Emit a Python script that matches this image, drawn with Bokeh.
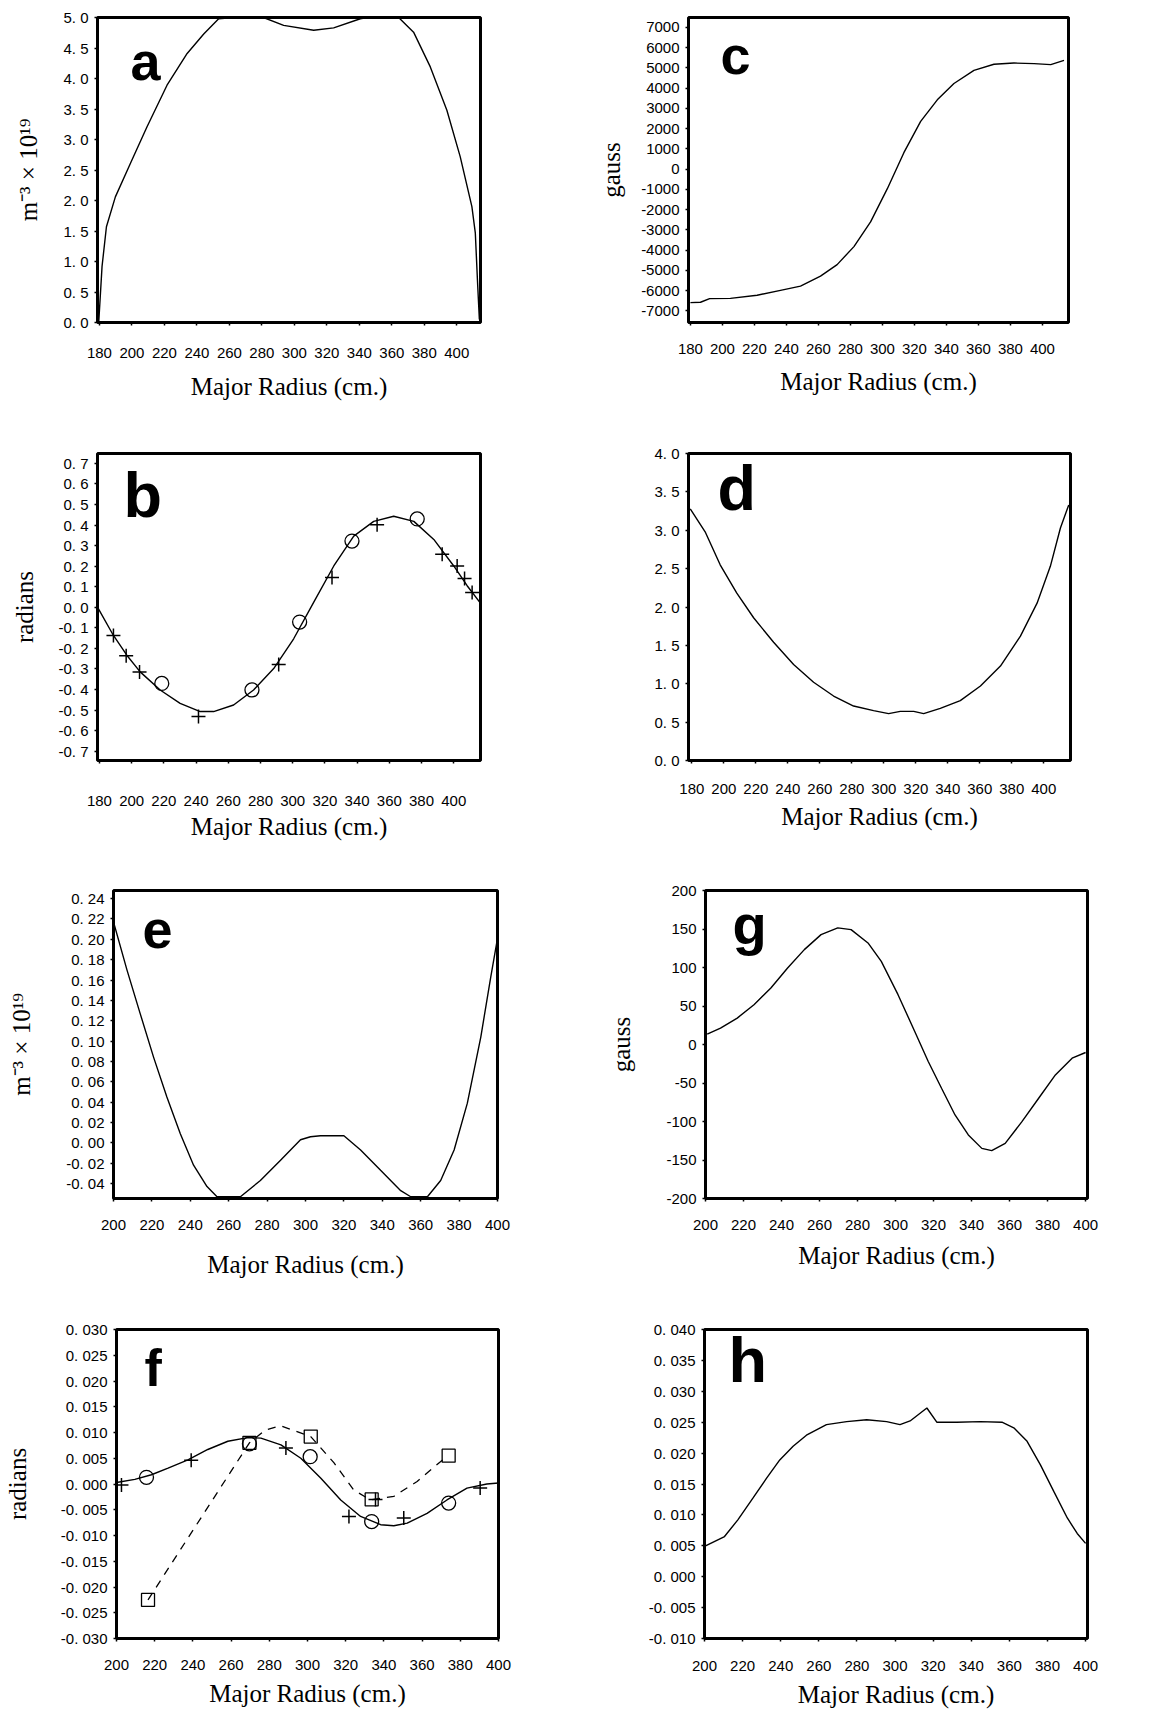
from bokeh.plotting import figure
from bokeh.layouts import column, row
from bokeh.models import Range1d, FixedTicker, Label
from bokeh.embed import file_html
from bokeh.resources import INLINE

TICK_FONT = "Liberation Sans"
TITLE_FONT = "Liberation Serif"
X_TITLE = "Major Radius (cm.)"
DENSITY_TITLE = "m⁻³ × 10¹⁹"

# ---------------- data ----------------
xticks_wide = [180, 200, 220, 240, 260, 280, 300, 320, 340, 360, 380, 400]
xticks_narrow = [200, 220, 240, 260, 280, 300, 320, 340, 360, 380, 400]

# (a) density
a_r = [179.6, 181.6, 184.3, 189.8, 199.1, 209.3, 221.6, 234.0, 244.2, 253.4, 262.7,
       281.0, 293.4, 311.9, 324.2, 340.6, 344.7, 364.2, 373.4, 383.7, 393.9, 402.1,
       409.3, 411.4, 412.8, 413.9]
a_n = [0.02, 0.92, 1.57, 2.06, 2.61, 3.21, 3.89, 4.41, 4.73, 4.98, 5.0,
       5.0, 4.87, 4.79, 4.83, 4.98, 5.0, 5.0, 4.76, 4.19, 3.48, 2.72,
       1.90, 1.47, 0.65, 0.05]
a_yticks = [0.0, 0.5, 1.0, 1.5, 2.0, 2.5, 3.0, 3.5, 4.0, 4.5, 5.0]
a_ylabels = ["0. 0", "0. 5", "1. 0", "1. 5", "2. 0", "2. 5", "3. 0", "3. 5", "4. 0", "4. 5", "5. 0"]

# (c) field
c_r = [180, 186.3, 192.0, 205, 221.7, 236.3, 248.8, 261.3, 271.7, 282.2, 292.6,
       303, 313.4, 323.9, 334.3, 344.7, 357.2, 369.7, 382.2, 394.8, 405.2, 413.5]
c_b = [-6600, -6580, -6400, -6390, -6235, -5990, -5780, -5290, -4720, -3830, -2610,
       -980, 810, 2360, 3420, 4230, 4880, 5180, 5240, 5210, 5160, 5370]
c_yticks = [-7000, -6000, -5000, -4000, -3000, -2000, -1000, 0,
            1000, 2000, 3000, 4000, 5000, 6000, 7000]
c_ylabels = ["-7000", "-6000", "-5000", "-4000", "-3000", "-2000", "-1000", "0",
             "1000", "2000", "3000", "4000", "5000", "6000", "7000"]

# (b) phase
b_r = [179.4, 188.7, 197.0, 205.3, 217.7, 230.1, 242.6, 250.9, 263.3, 275.7, 288.2,
       300.6, 313.0, 325.5, 337.9, 350.3, 362.7, 375.2, 387.6, 400.0, 408.3, 416.2]
b_phi = [-0.008, -0.137, -0.233, -0.314, -0.402, -0.467, -0.507, -0.507, -0.475, -0.402, -0.298,
         -0.153, 0.024, 0.201, 0.346, 0.418, 0.443, 0.418, 0.330, 0.201, 0.105, 0.024]
b_plus_r = [188.7, 196.6, 204.9, 241.5, 291.3, 324.4, 352.4, 392.8, 402.1, 406.7, 411.4]
b_plus_phi = [-0.137, -0.236, -0.314, -0.531, -0.278, 0.145, 0.402, 0.258, 0.201, 0.140, 0.072]
b_circ_r = [218.7, 274.7, 304.3, 336.8, 377.3]
b_circ_phi = [-0.370, -0.402, -0.072, 0.322, 0.430]
b_yticks = [-0.7, -0.6, -0.5, -0.4, -0.3, -0.2, -0.1, 0.0, 0.1, 0.2, 0.3, 0.4, 0.5, 0.6, 0.7]
b_ylabels = ["-0. 7", "-0. 6", "-0. 5", "-0. 4", "-0. 3", "-0. 2", "-0. 1", "0. 0",
             "0. 1", "0. 2", "0. 3", "0. 4", "0. 5", "0. 6", "0. 7"]

# (d)
d_r = [179.0, 188.3, 197.7, 208.1, 218.6, 231.1, 243.6, 256.1, 268.6, 281.1, 293.6, 303.0,
       310.3, 318.7, 324.9, 335.3, 347.8, 360.4, 372.9, 385.4, 395.8, 404.1, 410.4, 415.6]
d_val = [3.28, 2.98, 2.55, 2.18, 1.86, 1.54, 1.25, 1.02, 0.84, 0.71, 0.65, 0.61,
         0.64, 0.64, 0.61, 0.68, 0.78, 0.97, 1.23, 1.62, 2.05, 2.53, 3.03, 3.33]
d_yticks = [0.0, 0.5, 1.0, 1.5, 2.0, 2.5, 3.0, 3.5, 4.0]
d_ylabels = ["0. 0", "0. 5", "1. 0", "1. 5", "2. 0", "2. 5", "3. 0", "3. 5", "4. 0"]

# (e) density perturbation
e_r = [200.0, 207.0, 213.9, 220.9, 227.8, 234.8, 241.7, 248.7, 253.9, 266.1, 276.5, 287.0,
       297.4, 302.6, 307.8, 320.0, 328.7, 339.1, 349.6, 354.8, 363.5, 370.4, 377.4, 384.3,
       391.3, 396.5, 400.0]
e_val = [0.217, 0.170, 0.127, 0.084, 0.045, 0.009, -0.022, -0.043, -0.053, -0.053, -0.037, -0.017,
         0.003, 0.006, 0.007, 0.007, -0.007, -0.027, -0.047, -0.053, -0.053, -0.037, -0.007, 0.039,
         0.104, 0.163, 0.201]
e_yticks = [-0.04, -0.02, 0.0, 0.02, 0.04, 0.06, 0.08, 0.10, 0.12, 0.14, 0.16, 0.18, 0.20, 0.22, 0.24]
e_ylabels = ["-0. 04", "-0. 02", "0. 00", "0. 02", "0. 04", "0. 06", "0. 08", "0. 10",
             "0. 12", "0. 14", "0. 16", "0. 18", "0. 20", "0. 22", "0. 24"]

# (g) field perturbation
g_r = [200.9, 207.9, 216.7, 225.5, 234.4, 243.2, 252.0, 260.8, 269.6, 276.6, 285.5, 292.5,
       301.3, 310.1, 317.2, 324.2, 331.3, 338.3, 345.4, 350.6, 357.7, 366.5, 375.3, 384.1,
       392.9, 400.0]
g_val = [13.5, 21.3, 34.3, 51.6, 73.3, 99.4, 123.2, 142.7, 151.4, 149.2, 131.9, 108.0,
         64.7, 16.9, -22.1, -56.8, -91.5, -117.5, -134.9, -137.9, -128.4, -100.2, -69.8, -39.5,
         -17.8, -10.4]
g_yticks = [-200, -150, -100, -50, 0, 50, 100, 150, 200]
g_ylabels = ["-200", "-150", "-100", "-50", "0", "50", "100", "150", "200"]

# (f) phase perturbation
f_r = [200.0, 209.6, 218.3, 227.0, 237.4, 247.8, 258.3, 268.7, 275.6, 286.1, 296.5, 307.0,
       317.4, 327.8, 338.3, 345.2, 352.2, 362.6, 373.0, 383.5, 393.9, 400.0]
f_phi = [0.0003, 0.0009, 0.0018, 0.0031, 0.0047, 0.0067, 0.0083, 0.0090, 0.0089, 0.0076, 0.0050, 0.0011,
         -0.0031, -0.0063, -0.0079, -0.0081, -0.0076, -0.0057, -0.0031, -0.0008, 0.0000, 0.0002]
f_dash_r = [216.5, 269.6, 278.0, 286.1, 301.7, 313.9, 324.3, 333.0, 345.2, 357.4, 373.0]
f_dash_phi = [-0.0225, 0.0080, 0.0105, 0.0113, 0.0092, 0.0041, -0.0012, -0.0031, -0.0024, 0.0005, 0.0054]
f_plus_r = [202.6, 239.1, 288.7, 321.7, 335.6, 350.4, 390.4]
f_plus_phi = [-0.0002, 0.0046, 0.0070, -0.0063, -0.0030, -0.0066, -0.0008]
f_circ_r = [215.7, 269.6, 301.4, 333.6, 373.9]
f_circ_phi = [0.0013, 0.0078, 0.0053, -0.0073, -0.0037]
f_sq_r = [216.5, 269.6, 301.7, 333.6, 373.9]
f_sq_phi = [-0.0225, 0.0080, 0.0092, -0.0030, 0.0055]
f_yticks = [-0.030, -0.025, -0.020, -0.015, -0.010, -0.005, 0.0, 0.005, 0.010, 0.015, 0.020, 0.025, 0.030]
f_ylabels = ["-0. 030", "-0. 025", "-0. 020", "-0. 015", "-0. 010", "-0. 005", "0. 000",
             "0. 005", "0. 010", "0. 015", "0. 020", "0. 025", "0. 030"]

# (h)
h_r = [200.0, 210.5, 217.5, 225.4, 232.5, 239.5, 246.5, 253.5, 264.0, 274.6, 285.1, 295.6,
       302.6, 307.9, 316.7, 321.9, 332.4, 344.7, 356.1, 362.3, 369.3, 376.3, 383.3, 390.4,
       395.6, 400.0]
h_val = [0.0049, 0.0065, 0.0092, 0.0127, 0.0159, 0.0189, 0.0211, 0.0229, 0.0246, 0.0251, 0.0254, 0.0251,
         0.0246, 0.0252, 0.0273, 0.0250, 0.0250, 0.0251, 0.0250, 0.0241, 0.0219, 0.0181, 0.0138, 0.0095,
         0.0070, 0.0054]
h_yticks = [-0.010, -0.005, 0.0, 0.005, 0.010, 0.015, 0.020, 0.025, 0.030, 0.035, 0.040]
h_ylabels = ["-0. 010", "-0. 005", "0. 000", "0. 005", "0. 010", "0. 015", "0. 020",
             "0. 025", "0. 030", "0. 035", "0. 040"]


def panel(w, h, bl, br, bt, bb, xr, yr, xticks, yticks, ylabels, ytitle, ytitle_sd,
          x_mls, x_als, letter, ldx, lbase, lsize):
    p = figure(width=w, height=h, x_range=Range1d(*xr), y_range=Range1d(*yr),
               output_backend="svg", toolbar_location=None, tools="",
               min_border_left=bl, min_border_right=br,
               min_border_top=bt, min_border_bottom=bb)
    p.grid.visible = False
    p.outline_line_color = "black"
    p.outline_line_width = 3
    p.background_fill_color = "white"
    p.border_fill_color = "white"
    xa = p.xaxis[0]
    ya = p.yaxis[0]
    for ax in (xa, ya):
        ax.axis_line_color = None
        ax.major_tick_out = 3
        ax.major_tick_in = 0
        ax.major_tick_line_width = 1.5
        ax.minor_tick_line_color = None
        ax.major_label_text_font = TICK_FONT
        ax.major_label_text_font_size = "15px"
        ax.major_label_text_color = "black"
        ax.axis_label_text_font = TITLE_FONT
        ax.axis_label_text_font_size = "25px"
        ax.axis_label_text_font_style = "normal"
        ax.axis_label_text_color = "black"
    xa.ticker = FixedTicker(ticks=xticks)
    xa.major_label_standoff = x_mls
    xa.axis_label = X_TITLE
    xa.axis_label_standoff = x_als
    ya.ticker = FixedTicker(ticks=yticks)
    ya.major_label_overrides = {v: s for v, s in zip(yticks, ylabels)}
    ya.major_label_standoff = 6
    if ytitle:
        ya.axis_label = ytitle
        ya.axis_label_standoff = ytitle_sd
    fh = h - bt - bb
    # panel letter: baseline lbase px below the frame top
    p.add_layout(Label(x=ldx, y=fh - lbase + 0.38 * lsize, x_units="screen", y_units="screen",
                       text=letter, text_font=TICK_FONT, text_font_size=f"{lsize}px",
                       text_font_style="bold", text_color="black",
                       text_align="left", text_baseline="alphabetic"))
    return p


LINE = dict(line_color="black", line_width=1.4)

pa = panel(580, 420, 97, 100, 17, 97, (178.8, 414.6), (0, 5.0), xticks_wide,
           a_yticks, a_ylabels, DENSITY_TITLE, 18, 22, 12, "a", 33, 65, 54)
pa.line(a_r, a_n, **LINE)

pc = panel(578, 420, 108, 90, 13, 98, (178.8, 416.3), (-7580, 7490), xticks_wide,
           c_yticks, c_ylabels, "gauss", 13, 18, 11, "c", 32, 62, 54)
pc.line(c_r, c_b, **LINE)

pb = panel(580, 430, 97, 100, 33, 88, (178.8, 416.6), (-0.745, 0.748), xticks_wide,
           b_yticks, b_ylabels, "radians", 17, 32, 4, "b", 26, 67, 63)
pb.line(b_r, b_phi, **LINE)
pb.scatter(b_plus_r, b_plus_phi, marker="cross", size=14, line_color="black", line_width=1.5)
pb.scatter(b_circ_r, b_circ_phi, marker="circle", size=14, line_color="black",
           fill_color=None, line_width=1.3)

pd = panel(578, 430, 108, 88, 32, 90, (177.9, 416.7), (0, 4.0), xticks_wide,
           d_yticks, d_ylabels, None, 0, 20, 6, "d", 29, 59, 63)
pd.line(d_r, d_val, **LINE)

pe = panel(580, 430, 113, 83, 40, 82, (200, 400), (-0.0547, 0.248), xticks_narrow,
           e_yticks, e_ylabels, DENSITY_TITLE, 28, 18, 18, "e", 29, 60, 54)
pe.line(e_r, e_val, **LINE)

pg = panel(578, 430, 125, 71, 38, 82, (200, 401), (-200, 200), xticks_narrow,
           g_yticks, g_ylabels, "gauss", 28, 18, 9, "g", 27, 57, 56)
pg.line(g_r, g_val, **LINE)

pf = panel(580, 432, 115, 82, 49, 73, (200, 400), (-0.030, 0.030), xticks_narrow,
           f_yticks, f_ylabels, "radians", 27, 18, 7, "f", 28, 59, 52)
pf.line(f_r, f_phi, **LINE)
pf.line(f_dash_r, f_dash_phi, line_color="black", line_width=1.3, line_dash="8 7")
pf.scatter(f_plus_r, f_plus_phi, marker="cross", size=14, line_color="black", line_width=1.5)
pf.scatter(f_circ_r, f_circ_phi, marker="circle", size=14, line_color="black",
           fill_color=None, line_width=1.3)
pf.scatter(f_sq_r, f_sq_phi, marker="square", size=13, line_color="black",
           fill_color=None, line_width=1.3)

ph = panel(578, 432, 124, 71, 48, 74, (200, 401), (-0.010, 0.040), xticks_narrow,
           h_yticks, h_ylabels, None, 0, 19, 7, "h", 24, 55, 63)
ph.line(h_r, h_val, **LINE)

layout = column(row(pa, pc), row(pb, pd), row(pe, pg), row(pf, ph))

open("out.html", "w").write(file_html(layout, INLINE, title="Profiles"))
